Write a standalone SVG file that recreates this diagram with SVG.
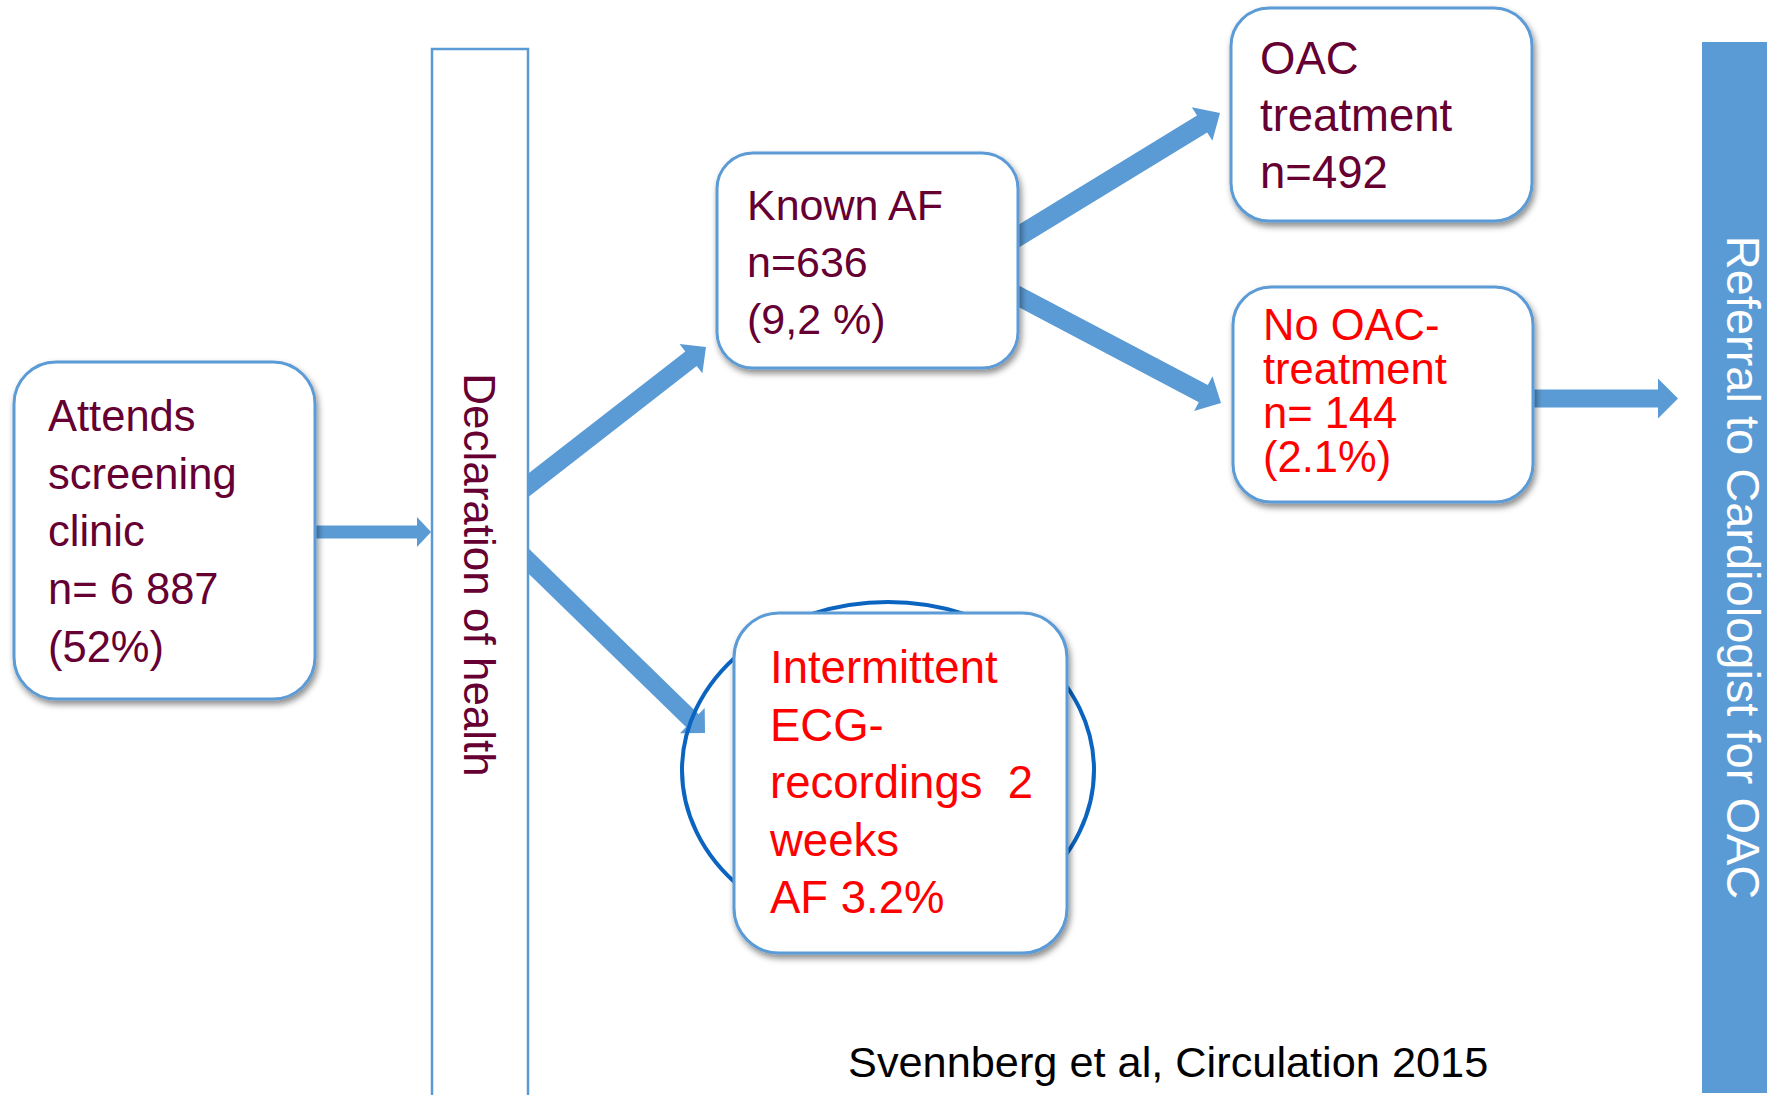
<svg xmlns="http://www.w3.org/2000/svg" width="1767" height="1095" viewBox="0 0 1767 1095">
<style>
  .box { fill: #ffffff; stroke: #5B9BD5; stroke-width: 3; filter: url(#shadow); }
  .arrow { fill: #5B9BD5; }
  .t { font-family: "Liberation Sans", Arial, sans-serif; font-size: 44px; }
  .maroon { fill: #660033; }
  .red { fill: #FF0000; }
</style>
<defs>
  <filter id="shadow" x="-10%" y="-10%" width="125%" height="125%">
    <feDropShadow dx="2" dy="4" stdDeviation="3" flood-color="#000000" flood-opacity="0.45"/>
  </filter>
</defs>
<rect width="1767" height="1095" fill="#ffffff"/>

<g id="connectors">
  <polygon class="arrow" points="308,525.5 417,525.5 417,517 431,532 417,547 417,538.5 308,538.5"/>
  <polygon class="arrow" points="514.4,484.3 685.3,351.4 679.6,344.1 706,347 702.4,373.3 696.7,366.0 525.8,498.9"/>
  <polygon class="arrow" points="527.1,547.1 698.6,714.2 704.7,707.9 705,733 680.0,733.3 686.0,727.1 514.5,559.9"/>
  <polygon class="arrow" points="1004.4,233.3 1197.0,115.6 1191.8,107.2 1220,113 1212.4,140.8 1207.2,132.4 1014.6,250.1"/>
  <polygon class="arrow" points="1013.7,282.7 1207.8,385.1 1212.5,376.3 1221,403 1194.1,411.1 1198.8,402.3 1004.7,299.9"/>
  <polygon class="arrow" points="1525,389.5 1658,389.5 1658,378.5 1678,398.5 1658,418.5 1658,407.5 1525,407.5"/>
</g>

<g id="declaration">
  <rect x="432" y="49" width="96" height="1070" fill="#ffffff" stroke="#5B9BD5" stroke-width="2.5"/>
  <text class="t maroon" transform="translate(464,575) rotate(90)" text-anchor="middle">Declaration of health</text>
</g>

<g id="attends">
  <rect class="box" x="14" y="362" width="301" height="337" rx="42" ry="42"/>
  <text class="t maroon" style="font-size:43.5px">
    <tspan x="48" y="431">Attends</tspan>
    <tspan x="48" y="488.7">screening</tspan>
    <tspan x="48" y="546.4">clinic</tspan>
    <tspan x="48" y="604.1">n= 6 887</tspan>
    <tspan x="48" y="661.8">(52%)</tspan>
  </text>
</g>

<g id="known-af">
  <rect class="box" x="717" y="153" width="301" height="215" rx="36" ry="36"/>
  <text class="t maroon" style="font-size:43px">
    <tspan x="747" y="220">Known AF</tspan>
    <tspan x="747" y="277">n=636</tspan>
    <tspan x="747" y="334">(9,2 %)</tspan>
  </text>
</g>

<g id="oac-treatment">
  <rect class="box" x="1231" y="8" width="301" height="213" rx="38" ry="38"/>
  <text class="t maroon" style="font-size:45.5px">
    <tspan x="1260" y="74">OAC</tspan>
    <tspan x="1260" y="131">treatment</tspan>
    <tspan x="1260" y="188">n=492</tspan>
  </text>
</g>

<g id="no-oac">
  <rect class="box" x="1233" y="287" width="300" height="215" rx="38" ry="38"/>
  <text class="t red" style="font-size:43.5px">
    <tspan x="1263" y="340">No OAC-</tspan>
    <tspan x="1263" y="384">treatment</tspan>
    <tspan x="1263" y="428">n= 144</tspan>
    <tspan x="1263" y="472">(2.1%)</tspan>
  </text>
</g>

<g id="intermittent">
  <ellipse cx="888" cy="770" rx="206" ry="168" fill="none" stroke="#0A64C0" stroke-width="4"/>
  <rect class="box" x="734" y="613" width="333" height="340" rx="45" ry="45"/>
  <text class="t red" style="font-size:45.5px" xml:space="preserve"><tspan x="770" y="683">Intermittent</tspan><tspan x="770" y="740.5">ECG-</tspan><tspan x="770" y="798">recordings  2</tspan><tspan x="770" y="855.5">weeks</tspan><tspan x="770" y="913">AF 3.2%</tspan></text>
</g>

<g id="referral">
  <rect x="1702" y="42" width="70" height="1051" fill="#5B9BD5"/>
  <text class="t" style="font-size:47px" fill="#ffffff" transform="translate(1727,567.5) rotate(90)" text-anchor="middle">Referral to Cardiologist for OAC</text>
</g>

<g id="citation">
  <text class="t" style="font-size:43.3px" fill="#000000" x="848" y="1077">Svennberg et al, Circulation 2015</text>
</g>
</svg>
